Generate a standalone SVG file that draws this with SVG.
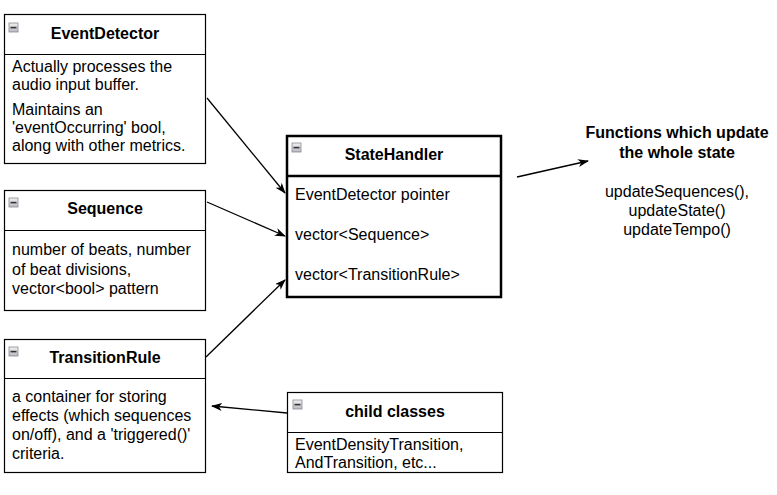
<svg xmlns="http://www.w3.org/2000/svg" width="777" height="495" viewBox="0 0 777 495">
<style>
  .box{fill:#fff;stroke:#000;stroke-width:1.2}
  .thick{fill:#fff;stroke:#000;stroke-width:2.5}
  .title{font-family:"Liberation Sans",Arial,sans-serif;font-size:16px;font-weight:bold;fill:#000;text-anchor:middle}
  .body{font-family:"Liberation Sans",Arial,sans-serif;font-size:16px;fill:#000}
  .ctr{text-anchor:middle}
  .edge{stroke:#000;stroke-width:1.3;fill:none;marker-end:url(#arr)}
</style>
<defs>
  <marker id="arr" markerWidth="12" markerHeight="10" refX="10" refY="4" orient="auto" markerUnits="userSpaceOnUse">
    <path d="M0,0 L11,4 L0,8 L3,4 z" fill="#000"/>
  </marker>
  <linearGradient id="ig" x1="0" y1="0" x2="0" y2="1">
    <stop offset="0" stop-color="#f2f2f2"/>
    <stop offset="1" stop-color="#b8b8c0"/>
  </linearGradient>
  <g id="icon">
    <rect x="0" y="0" width="9" height="9" fill="url(#ig)" stroke="#8a8a95" stroke-width="0.8"/>
    <rect x="1.5" y="3.8" width="6" height="1.6" fill="#333"/>
  </g>
</defs>
<rect width="777" height="495" fill="#fff"/>

<g id="EventDetector">
  <rect class="box" x="4.5" y="14.5" width="201" height="149"/>
  <line class="box" x1="4.5" y1="54.5" x2="205.5" y2="54.5"/>
  <use href="#icon" x="9" y="23"/>
  <text class="title" x="105" y="39">EventDetector</text>
  <text class="body" x="12" y="72">Actually processes the</text>
  <text class="body" x="12" y="90">audio input buffer.</text>
  <text class="body" x="12" y="115">Maintains an</text>
  <text class="body" x="12" y="133">'eventOccurring' bool,</text>
  <text class="body" x="12" y="151">along with other metrics.</text>
</g>

<g id="Sequence">
  <rect class="box" x="4.5" y="190.5" width="201" height="120"/>
  <line class="box" x1="4.5" y1="230.5" x2="205.5" y2="230.5"/>
  <use href="#icon" x="9" y="198"/>
  <text class="title" x="105" y="214">Sequence</text>
  <text class="body" x="12" y="255">number of beats, number</text>
  <text class="body" x="12" y="274.5">of beat divisions,</text>
  <text class="body" x="12" y="294">vector&lt;bool&gt; pattern</text>
</g>

<g id="TransitionRule">
  <rect class="box" x="4.5" y="339.5" width="201" height="133"/>
  <line class="box" x1="4.5" y1="378.5" x2="205.5" y2="378.5"/>
  <use href="#icon" x="9" y="347"/>
  <text class="title" x="105" y="363">TransitionRule</text>
  <text class="body" x="12" y="402">a container for storing</text>
  <text class="body" x="12" y="421">effects (which sequences</text>
  <text class="body" x="12" y="440">on/off), and a 'triggered()'</text>
  <text class="body" x="12" y="459">criteria.</text>
</g>

<g id="StateHandler">
  <rect class="thick" x="287" y="136" width="214" height="161"/>
  <line class="thick" x1="287" y1="176" x2="501" y2="176"/>
  <use href="#icon" x="292" y="143"/>
  <text class="title" x="394" y="160">StateHandler</text>
  <text class="body" x="295" y="200">EventDetector pointer</text>
  <text class="body" x="295" y="240">vector&lt;Sequence&gt;</text>
  <text class="body" x="295" y="280">vector&lt;TransitionRule&gt;</text>
</g>

<g id="ChildClasses">
  <rect class="box" x="287.5" y="392.5" width="215" height="80"/>
  <line class="box" x1="287.5" y1="432.5" x2="502.5" y2="432.5"/>
  <use href="#icon" x="293" y="400"/>
  <text class="title" x="395" y="417">child classes</text>
  <text class="body" x="295" y="450">EventDensityTransition,</text>
  <text class="body" x="295" y="468">AndTransition, etc...</text>
</g>

<g id="Functions">
  <text class="title" x="677" y="138">Functions which update</text>
  <text class="title" x="677" y="158">the whole state</text>
  <text class="body ctr" x="677" y="197">updateSequences(),</text>
  <text class="body ctr" x="677" y="216">updateState()</text>
  <text class="body ctr" x="677" y="235">updateTempo()</text>
</g>

<g id="connectors">
  <line class="edge" x1="207" y1="98" x2="285" y2="193"/>
  <line class="edge" x1="207" y1="202" x2="285" y2="236"/>
  <line class="edge" x1="206" y1="357" x2="285" y2="280"/>
  <line class="edge" x1="287" y1="413" x2="212" y2="406"/>
  <line class="edge" x1="517" y1="177" x2="588" y2="161"/>
</g>
</svg>
